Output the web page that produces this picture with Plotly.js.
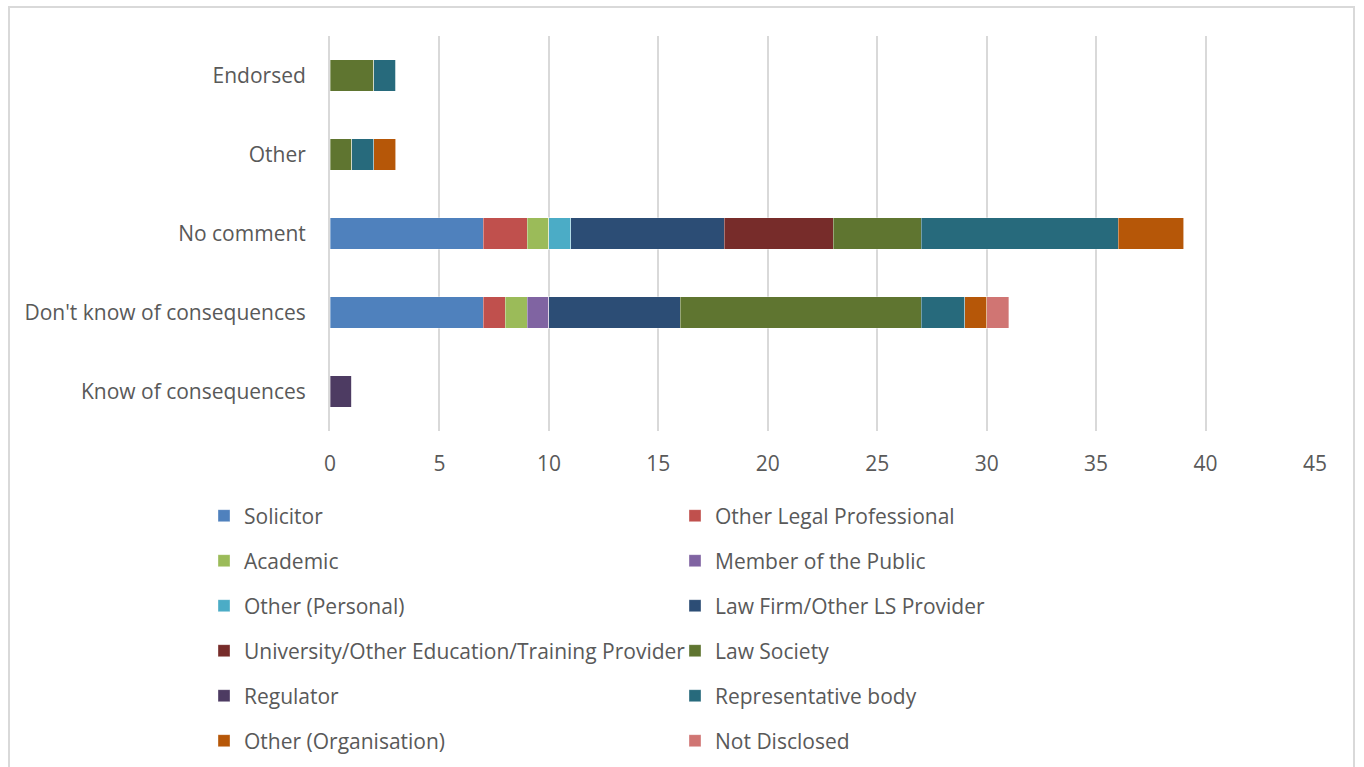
<!DOCTYPE html>
<html>
<head>
<meta charset="utf-8">
<script src="https://cdn.plot.ly/plotly-3.0.1.min.js"></script>
<style>
html,body{margin:0;padding:0;background:#fff;}
#wrap{position:relative;width:1364px;height:767px;overflow:hidden;}
#chart{width:1364px;height:767px;}
#frame{position:absolute;left:8px;top:6px;width:1347px;height:800px;border:2px solid #d9d9d9;box-sizing:border-box;pointer-events:none;}
</style>
</head>
<body>
<div id="wrap"><div id="chart"></div><div id="frame"></div></div>
<script>
const categories = ["Endorsed", "Other", "No comment", "Don't know of consequences", "Know of consequences"];
const seriesNames = ["Solicitor", "Other Legal Professional", "Academic", "Member of the Public",
  "Other (Personal)", "Law Firm/Other LS Provider", "University/Other Education/Training Provider",
  "Law Society", "Regulator", "Representative body", "Other (Organisation)", "Not Disclosed"];
const solicitor = [0, 0, 7, 7, 0];
const otherLegalProfessional = [0, 0, 2, 1, 0];
const academic = [0, 0, 1, 1, 0];
const memberOfPublic = [0, 0, 0, 1, 0];
const otherPersonal = [0, 0, 1, 0, 0];
const lawFirm = [0, 0, 7, 6, 0];
const university = [0, 0, 5, 0, 0];
const lawSociety = [2, 1, 4, 11, 0];
const regulator = [0, 0, 0, 0, 1];
const representativeBody = [1, 1, 9, 2, 0];
const otherOrganisation = [0, 1, 3, 1, 0];
const notDisclosed = [0, 0, 0, 1, 0];
const xTicks = [0, 5, 10, 15, 20, 25, 30, 35, 40, 45];

const seriesValues = [solicitor, otherLegalProfessional, academic, memberOfPublic, otherPersonal,
  lawFirm, university, lawSociety, regulator, representativeBody, otherOrganisation, notDisclosed];
const colors = ["#4F81BD", "#C0504D", "#9BBB59", "#8064A2", "#4BACC6", "#2C4D75",
  "#772C2A", "#5F7530", "#4D3B62", "#276A7C", "#B65708", "#D07573"];

const FONT = "'Open Sans', 'Noto Sans', sans-serif";
const TXT = "#595959";
const FS = 21;

const legendIds = ["legend", "legend2", "legend3", "legend4", "legend5", "legend6"];
const traces = seriesNames.map((name, i) => ({
  type: "bar",
  orientation: "h",
  name: name,
  y: categories,
  x: seriesValues[i],
  marker: {color: colors[i], line: {color: "rgba(255,255,255,0.35)", width: 1}},
  legend: legendIds[Math.floor(i / 2)],
  hoverinfo: "x+name"
}));

const plotTop = 36, plotBottom = 431, plotH = plotBottom - plotTop;
const layout = {
  width: 1364, height: 767,
  margin: {l: 330, r: 49, t: plotTop, b: 767 - plotBottom, pad: 0, autoexpand: false},
  barmode: "stack",
  bargap: 0.6,
  paper_bgcolor: "#ffffff",
  plot_bgcolor: "#ffffff",
  font: {family: FONT, color: TXT, size: FS},
  xaxis: {
    range: [0, 45], tickvals: xTicks, ticktext: xTicks.map(String),
    showgrid: true, gridcolor: "#d9d9d9", gridwidth: 2,
    zeroline: false, showline: false,
    ticks: "outside", ticklen: 14, tickcolor: "rgba(0,0,0,0)",
    tickfont: {family: FONT, size: FS, color: TXT},
    automargin: false,
    fixedrange: true
  },
  yaxis: {
    autorange: "reversed", type: "category",
    showgrid: false, zeroline: false, showline: true, linecolor: "#d9d9d9", linewidth: 2,
    ticks: "outside", ticklen: 18, tickcolor: "rgba(0,0,0,0)",
    tickfont: {family: FONT, size: FS, color: TXT},
    automargin: false,
    fixedrange: true
  },
  showlegend: true
};

const legendX = (204 - 330) / (1364 - 330 - 49);
legendIds.forEach((id, r) => {
  const py = 516 + 45 * r;
  layout[id] = {
    orientation: "h",
    x: legendX, xanchor: "left",
    y: (plotBottom - py) / plotH, yanchor: "middle",
    entrywidth: 426, entrywidthmode: "pixels",
    font: {family: FONT, size: FS, color: TXT},
    bgcolor: "rgba(0,0,0,0)", borderwidth: 0,
    traceorder: "normal", itemclick: false, itemdoubleclick: false
  };
});

Plotly.newPlot("chart", traces, layout, {displayModeBar: false});
</script>
</body>
</html>
